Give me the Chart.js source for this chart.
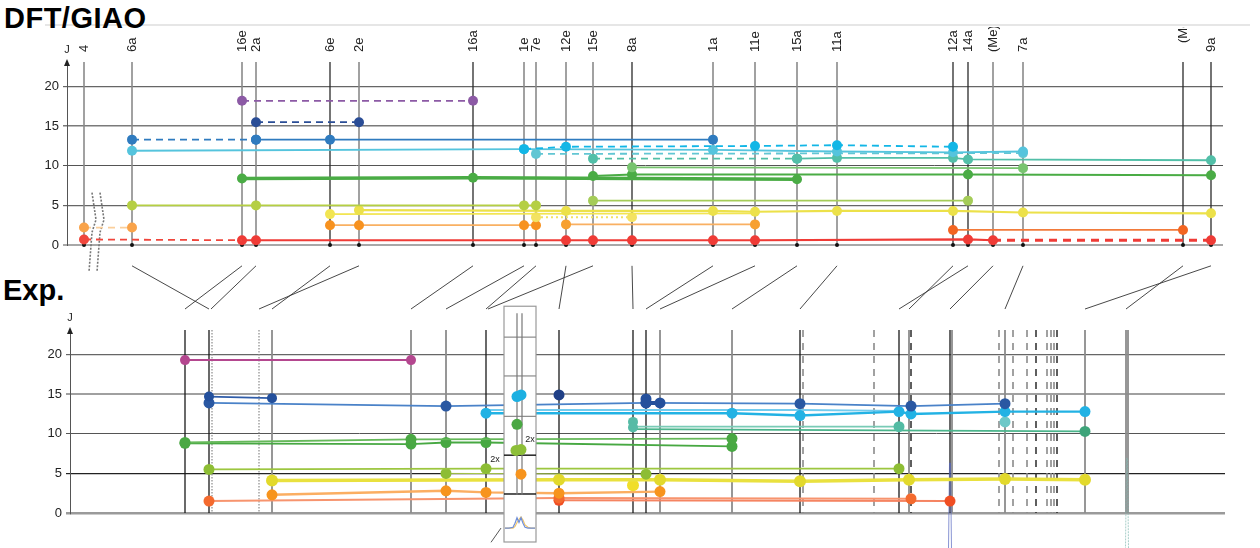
<!DOCTYPE html>
<html>
<head>
<meta charset="utf-8">
<script src="https://cdn.jsdelivr.net/npm/chart.js@4.4.1/dist/chart.umd.min.js"></script>
<style>
  html, body { margin: 0; background: #fff; }
  #wrap { position: relative; width: 1260px; height: 548px; overflow: hidden; font-family: "Liberation Sans", Arial, sans-serif; }
  .ptitle { position: absolute; font-weight: bold; font-size: 29px; line-height: 1; color: #000; }
  #rule { position: absolute; left: 45px; top: 24px; width: 1205px; height: 2px; background: #e6e6e6; }
  canvas { position: absolute; left: 0; }
</style>
</head>
<body>
<div id="wrap">
  <div id="rule"></div>
  <div class="ptitle" style="left:4px;top:4px;letter-spacing:0.5px">DFT/GIAO</div>
  <div class="ptitle" style="left:3px;top:276px">Exp.</div>
  <canvas id="dft" width="1260" height="280" style="top:0"></canvas>
  <canvas id="exp" width="1260" height="293" style="top:255px"></canvas>
</div>
<script>
// --- DFT/GIAO panel: assigned proton positions (x) and labels
const topPos = [84, 132, 242, 256, 330, 359, 473, 524, 536, 566, 593, 632, 713, 755, 797, 837, 953, 968, 993, 1023, 1183, 1211];
const topLabels = ['4', '6a', '16e', '2a', '6e', '2e', '16a', '1e', '7e', '12e', '15e', '8a', '1a', '11e', '15a', '11a', '12a', '14a', '(Me)', '7a', '(Me)', '9a'];
const topDark = ['6e', '16a', '8a', '12a', '14a', '9a'];

// computed couplings J (Hz): [position, J]
const dftPurple = [[242, 18.2], [473, 18.2]];
const dftNavy = [[256, 15.5], [359, 15.5]];
const dftBlueA = [[132, 13.3], [256, 13.3]];
const dftBlueB = [[256, 13.3], [330, 13.3], [713, 13.3]];
const dftSky = [[132, 11.9], [524, 12.1], [713, 12.0], [837, 11.8], [953, 11.7], [1023, 11.8]];
const dftCyan = [[524, 12.1], [566, 12.4], [755, 12.5], [837, 12.6], [953, 12.4]];
const dftPale = [[536, 11.5], [1023, 11.6]];
const dftTealA = [[593, 10.9], [797, 10.9]];
const dftTealB = [[797, 10.9], [837, 11.0], [953, 11.0], [968, 10.8], [1211, 10.7]];
const dftGreenA = [[242, 8.4], [473, 8.5], [797, 8.3]];
const dftGreenB = [[593, 8.7], [632, 8.9], [968, 8.9], [1211, 8.8]];
const dftGreenC = [[632, 9.8], [1023, 9.7]];
const dftLimeA = [[132, 5.0], [256, 5.0], [524, 5.0], [536, 5.0]];
const dftLimeB = [[593, 5.6], [968, 5.6]];
const dftYellowA = [[359, 4.4], [566, 4.3], [713, 4.3], [755, 4.2], [837, 4.3], [953, 4.3], [1023, 4.1], [1211, 4.0]];
const dftYellowB = [[330, 3.9], [755, 4.0]];
const dftYellowC = [[536, 3.5], [632, 3.5]];
const dftOrangeA = [[330, 2.5], [359, 2.5], [524, 2.5], [536, 2.5]];
const dftOrangeB = [[566, 2.6], [755, 2.6]];
const dftPeach = [[84, 2.2], [132, 2.2]];
const dftRedA = [[84, 0.7], [242, 0.6]];
const dftRedB = [[242, 0.6], [256, 0.6], [566, 0.6], [593, 0.6], [632, 0.6], [713, 0.6], [755, 0.6], [968, 0.7], [993, 0.6]];
const dftRedC = [[993, 0.6], [1211, 0.6]];
const dftDeep = [[953, 1.9], [1183, 1.9]];

// --- Experimental panel: signal positions and line kinds
const expPos = [185, 209, 212, 259, 272, 411, 446, 486, 559, 633, 646, 660, 732, 800, 803, 874, 899, 909, 911, 950, 952, 999, 1005, 1013, 1027, 1036, 1047, 1051, 1054, 1057, 1085, 1126, 1128];
const expKind = ['k', 'k', 'dot', 'dot', 'g', 'g', 'g', 'k', 'k', 'k', 'k', 'g', 'g', 'k', 'dash', 'dash', 'k', 'g', 'dashk', 'k', 'g', 'dash', 'g', 'dash', 'dash', 'dashk', 'dash', 'dash', 'dash', 'dashk', 'g', 'g', 'g'];

// measured couplings J (Hz)
const expMagenta = [[185, 19.3], [411, 19.3]];
const expNavy = [[209, 14.7], [272, 14.5]];
const expNavyB = [[559, 14.9]];
const expNavyC = [[646, 14.4], [646, 13.9], [660, 13.9]];
const expBlue = [[209, 13.9], [446, 13.5], [646, 13.9], [800, 13.8], [911, 13.5], [1005, 13.8]];
const expSky = [[486, 12.6], [732, 12.6], [800, 12.3], [899, 12.8], [911, 12.5], [1005, 12.8], [1085, 12.8]];
const expSkyB = [[486, 13.0], [800, 13.0], [899, 12.9]];
const expTealDots = [[633, 11.5], [633, 10.8]];
const expTeal = [[633, 10.9], [899, 10.9]];
const expTealDot = [[1005, 11.5]];
const expSeaGreen = [[633, 10.6], [1085, 10.3]];
const expGreenA = [[185, 8.9], [411, 9.3], [732, 9.4]];
const expGreenB = [[185, 8.8], [411, 8.7], [446, 8.9], [486, 8.9], [732, 8.4]];
const expLime = [[209, 5.5], [486, 5.6], [899, 5.6]];
const expLimeB = [[446, 5.0], [646, 4.9]];
const expYellow = [[272, 4.1], [559, 4.2], [660, 4.2], [800, 4.0], [909, 4.2], [1005, 4.3], [1085, 4.2]];
const expYellowDot = [[633, 3.5]];
const expOrange = [[272, 2.3], [446, 2.8], [486, 2.6], [559, 2.5], [660, 2.7]];
const expRedOrange = [[209, 1.5], [559, 1.9], [911, 1.8]];
const expCoral = [[559, 1.6], [950, 1.5]];
// inset (overlapped signals)
const insetDots = [[517, 14.7], [521, 14.9], [517, 11.2], [516, 7.9], [521, 8.0], [521, 4.9]];
const insetDotColors = ['#1cb0e2', '#1cb0e2', '#4aa843', '#8dbf38', '#8dbf38', '#f7941d'];
const insetLines = [517, 522];
const insetSpecX = [505, 509, 513, 515, 517, 519, 521, 523, 525, 528, 531, 535];
const insetBlue = [-1.9, -1.9, -1.8, -1.3, -0.6, -1.2, -0.6, -1.3, -1.8, -1.9, -1.9, -1.9];
const insetGold = [-1.9, -1.9, -1.9, -1.7, -1.2, -0.8, -0.5, -0.9, -1.5, -1.8, -1.9, -1.9];
// spectral traces below the baseline
const peakX = [950, 1127];
const peakTopJ = [6.3, 6.9];

// links between computed and measured positions
const linkFrom = [132, 242, 256, 330, 359, 473, 524, 536, 593, 566, 632, 713, 755, 797, 837, 953, 968, 993, 1023, 1183, 1211];
const linkTo = [209, 185, 211, 272, 259, 411, 446, 486, 488, 559, 633, 646, 660, 732, 800, 909, 899, 950, 1005, 1126, 1085];

const FONT = '"Liberation Sans", Arial, sans-serif';

function series(points, color, extra) {
  return Object.assign({
    data: points.map(([x, y]) => ({ x, y })),
    borderColor: color,
    backgroundColor: color,
    pointBackgroundColor: color,
    borderWidth: 1.8,
    pointRadius: 5,
    pointHoverRadius: 5,
    pointBorderWidth: 0,
    tension: 0,
    fill: false,
    clip: false
  }, extra || {});
}
const dashed = { borderDash: [7, 5] };

function yAxis(width, gridStyle) {
  return {
    min: 0,
    max: 23.1,
    afterFit: s => { s.width = width; },
    afterBuildTicks: s => { s.ticks = [0, 5, 10, 15, 20].map(v => ({ value: v })); },
    ticks: { color: '#222', font: { size: 13, family: FONT }, padding: 4 },
    grid: {
      color: c => gridStyle[c.tick.value][0],
      lineWidth: c => gridStyle[c.tick.value][1],
      tickLength: 4
    },
    border: { color: '#555', width: 1 }
  };
}

function line(ctx, pts, color, width, dash) {
  ctx.save();
  ctx.strokeStyle = color;
  ctx.lineWidth = width;
  ctx.setLineDash(dash || []);
  ctx.beginPath();
  pts.forEach(([px, py], i) => i ? ctx.lineTo(px, py) : ctx.moveTo(px, py));
  ctx.stroke();
  ctx.restore();
}

function axisArrow(chart, label) {
  const { ctx, chartArea } = chart;
  const ax = chartArea.left;
  ctx.save();
  ctx.fillStyle = '#222';
  ctx.beginPath();
  ctx.moveTo(ax, chartArea.top - 3);
  ctx.lineTo(ax - 3, chartArea.top + 4);
  ctx.lineTo(ax + 3, chartArea.top + 4);
  ctx.closePath();
  ctx.fill();
  ctx.font = '11px ' + FONT;
  ctx.textAlign = 'center';
  ctx.textBaseline = 'bottom';
  ctx.fillText(label, ax, chartArea.top - 7);
  ctx.restore();
}

const dftDecor = {
  id: 'dftDecor',
  beforeDatasetsDraw(chart) {
    const { ctx, scales: { x, y } } = chart;
    topPos.forEach((v, i) => {
      const px = x.getPixelForValue(v);
      const dark = topDark.includes(topLabels[i]) || i === 20;
      line(ctx, [[px, y.getPixelForValue(y.max)], [px, y.getPixelForValue(0)]], dark ? '#2a2a2a' : '#8a8a8a', dark ? 1.3 : 1.6);
    });
    // axis break
    const brk = [[92, 6.6], [96, 3.2], [92, 1.6], [89, -3.4]];
    [0, 8].forEach(off => {
      line(ctx, brk.map(([bx, bj]) => [x.getPixelForValue(bx + off), y.getPixelForValue(bj)]), '#777', 1.6, [2, 1.5]);
    });
  },
  afterDraw(chart) {
    const { ctx, scales: { x } } = chart;
    ctx.save();
    ctx.beginPath();
    ctx.rect(0, 27, 1260, 60);
    ctx.clip();
    ctx.fillStyle = '#222';
    ctx.font = '13px ' + FONT;
    ctx.textAlign = 'left';
    ctx.textBaseline = 'middle';
    topPos.forEach((v, i) => {
      ctx.save();
      ctx.translate(x.getPixelForValue(v), i === 20 ? 43 : 52);
      ctx.rotate(-Math.PI / 2);
      ctx.fillText(topLabels[i], 0, 0);
      ctx.restore();
    });
    ctx.restore();
    axisArrow(chart, 'J');
  }
};

const expDecor = {
  id: 'expDecor',
  beforeDatasetsDraw(chart) {
    const { ctx, scales: { x, y } } = chart;
    const kinds = {
      k: ['#1a1a1a', 1.3, []],
      g: ['#8c8c8c', 1.8, []],
      dot: ['#8a8a8a', 1.2, [1.5, 1.5]],
      dash: ['#8a8a8a', 1.6, [7, 6]],
      dashk: ['#2a2a2a', 1.5, [7, 6]]
    };
    expPos.forEach((v, i) => {
      const [c, w, d] = kinds[expKind[i]];
      const px = x.getPixelForValue(v);
      line(ctx, [[px, y.getPixelForValue(y.max)], [px, y.getPixelForValue(0)]], c, w, d);
    });
    // spectral traces
    peakX.forEach((v, i) => {
      const px = x.getPixelForValue(v);
      const col = i === 0 ? '#5566c0' : '#7fb8b0';
      line(ctx, [[px - 1.5, y.getPixelForValue(-4.6)], [px - 0.5, y.getPixelForValue(peakTopJ[i])], [px + 0.5, y.getPixelForValue(peakTopJ[i])], [px + 1.5, y.getPixelForValue(-4.6)]], col, 0.7, i ? [2, 1] : []);
    });
    // links to computed panel
    linkFrom.forEach((v, i) => {
      line(ctx, [[x.getPixelForValue(v), y.getPixelForValue(31.2)], [x.getPixelForValue(linkTo[i]), y.getPixelForValue(25.75)]], '#333', 0.9);
    });
  },
  beforeDatasetDraw(chart, args) {
    if (args.index !== 0) return;
    const { ctx, scales: { x, y } } = chart;
    const l = x.getPixelForValue(504), r = x.getPixelForValue(536);
    const t = y.getPixelForValue(26.1), b = y.getPixelForValue(-3.66);
    ctx.save();
    ctx.fillStyle = '#fff';
    ctx.fillRect(l, t, r - l, b - t);
    ctx.strokeStyle = '#9a9a9a';
    ctx.lineWidth = 1.2;
    ctx.strokeRect(l, t, r - l, b - t);
    ctx.restore();
    [22.2, 17.3, 12.2].forEach(j => line(ctx, [[l, y.getPixelForValue(j)], [r, y.getPixelForValue(j)]], '#8a8a8a', 1.2));
    [7.3, 2.4].forEach(j => line(ctx, [[l, y.getPixelForValue(j)], [r, y.getPixelForValue(j)]], '#111', 1.4));
    insetLines.forEach(v => line(ctx, [[x.getPixelForValue(v), y.getPixelForValue(25.2)], [x.getPixelForValue(v), y.getPixelForValue(2.3)]], '#777', 1.2));
    line(ctx, insetSpecX.map((v, i) => [x.getPixelForValue(v), y.getPixelForValue(insetGold[i])]), '#f2c66a', 1.2);
    line(ctx, insetSpecX.map((v, i) => [x.getPixelForValue(v), y.getPixelForValue(insetBlue[i])]), '#6f8fd8', 1.2);
  },
  afterDraw(chart) {
    const { ctx, scales: { x, y } } = chart;
    ctx.save();
    ctx.fillStyle = '#222';
    ctx.font = '9px ' + FONT;
    ctx.textAlign = 'center';
    ctx.textBaseline = 'middle';
    ctx.fillText('2x', x.getPixelForValue(495), y.getPixelForValue(6.7));
    ctx.fillText('2x', x.getPixelForValue(530), y.getPixelForValue(9.3));
    ctx.restore();
    line(ctx, [[x.getPixelForValue(491), y.getPixelForValue(-3.7)], [x.getPixelForValue(501), y.getPixelForValue(-1.9)]], '#555', 1);
    axisArrow(chart, 'J');
  }
};

const dftData = [
  series(dftPurple, '#8c5aa5', dashed),
  series(dftNavy, '#2a4d96', dashed),
  series(dftBlueA, '#2f7bbf', dashed),
  series(dftBlueB, '#2f7bbf'),
  series(dftCyan, '#12b6e6', dashed),
  series(dftSky, '#55c4dd'),
  series(dftPale, '#62c6d3', dashed),
  series(dftTealA, '#52bfa8', dashed),
  series(dftTealB, '#52bfa8'),
  series(dftGreenC, '#78c46f'),
  series(dftGreenA, '#4aac45', { borderWidth: 3.5 }),
  series(dftGreenB, '#4aac45', { borderWidth: 2 }),
  series(dftLimeA, '#b5cf43'),
  series(dftLimeB, '#a5cc58'),
  series(dftYellowA, '#ece14a', { borderWidth: 2.2 }),
  series(dftYellowB, '#f2e552', { pointRadius: [5, 0] }),
  series(dftYellowC, '#f3e263', { borderDash: [2, 3] }),
  series(dftOrangeA, '#f9b062', { pointBackgroundColor: '#f7921f' }),
  series(dftOrangeB, '#f9b062', { pointBackgroundColor: '#f7a030' }),
  series(dftPeach, '#fbcf9b', { borderDash: [7, 5], pointBackgroundColor: '#f9a34a' }),
  series(dftDeep, '#f27a3a', { pointBackgroundColor: '#f26522' }),
  series(dftRedA, '#f0463c', { borderDash: [7, 5], pointRadius: [5, 0] }),
  series(dftRedB, '#ef3b36', { borderWidth: 2.2 }),
  series(dftRedC, '#ef3b36', { borderDash: [8, 6], borderWidth: 3, pointRadius: [0, 5] }),
  series(topPos.map(v => [v, 0]), '#111', { showLine: false, pointRadius: 2 })
];

new Chart(document.getElementById('dft'), {
  type: 'line',
  data: { datasets: dftData },
  options: {
    responsive: false,
    animation: false,
    events: [],
    layout: { padding: { top: 62, bottom: 35, left: 0, right: 37 } },
    plugins: { legend: { display: false }, tooltip: { enabled: false } },
    scales: {
      x: { type: 'linear', min: 67, max: 1223, display: false },
      y: yAxis(67, { 0: ['#a8a8a8', 2], 5: ['#666', 1.2], 10: ['#555', 1], 15: ['#7a7a7a', 1.5], 20: ['#666', 1.2] })
    }
  },
  plugins: [dftDecor]
});

const expData = [
  series(insetDots, '#1cb0e2', { showLine: false, pointBackgroundColor: insetDotColors, pointRadius: 5.5 }),
  series(expMagenta, '#b4478f', { borderWidth: 2 }),
  series(expNavy, '#2f5ca8', { pointBackgroundColor: '#24509c' }),
  series(expNavyB, '#1f3f86', { pointRadius: 5.5 }),
  series(expNavyC, '#24509c', { borderWidth: 4, pointRadius: 5.5 }),
  series(expBlue, '#4a82c8', { pointBackgroundColor: '#2a58a2', pointRadius: 5.5 }),
  series(expSky, '#22b2e4', { borderWidth: 2.4, pointRadius: 5.5 }),
  series(expSkyB, '#72cbee', { pointRadius: 0 }),
  series(expTealDots, '#56bba6', { borderWidth: 6, pointRadius: 5 }),
  series(expTeal, '#79cbb6', { pointRadius: [0, 5.5], pointBackgroundColor: '#52bba3' }),
  series(expTealDot, '#6dc8c8', { pointRadius: 5.5 }),
  series(expSeaGreen, '#4bb58c', { pointRadius: [0, 5.5], pointBackgroundColor: '#3ea47a' }),
  series(expGreenA, '#66b95a', { pointBackgroundColor: '#4aa843', pointRadius: 5.5 }),
  series(expGreenB, '#47a842', { pointRadius: 5.5 }),
  series(expLime, '#9cc63f', { pointBackgroundColor: '#8dbd34', pointRadius: 5.5 }),
  series(expLimeB, '#a8c84a', { borderWidth: 1, pointBackgroundColor: '#8dbd34', pointRadius: 5.5 }),
  series(expYellow, '#e9e13f', { borderWidth: 3.5, pointBackgroundColor: '#e2d92c', pointRadius: 6 }),
  series(expYellowDot, '#f0de2a', { pointRadius: 6 }),
  series(expOrange, '#fbae62', { borderWidth: 2.4, pointBackgroundColor: '#f7941d', pointRadius: 5.5 }),
  series(expRedOrange, '#f7946e', { borderWidth: 2, pointBackgroundColor: '#f46a2e', pointRadius: 5.5 }),
  series(expCoral, '#f58462', { borderWidth: 2, pointBackgroundColor: '#f04e23', pointRadius: 5.5 })
];

new Chart(document.getElementById('exp'), {
  type: 'line',
  data: { datasets: expData },
  options: {
    responsive: false,
    animation: false,
    events: [],
    layout: { padding: { top: 75, bottom: 35, left: 0, right: 35 } },
    plugins: { legend: { display: false }, tooltip: { enabled: false } },
    scales: {
      x: { type: 'linear', min: 70, max: 1225, display: false },
      y: yAxis(70, { 0: ['#9a9a9a', 2.5], 5: ['#222', 1.2], 10: ['#555', 1], 15: ['#a0a0a0', 2], 20: ['#666', 1.2] })
    }
  },
  plugins: [expDecor]
});
</script>
</body>
</html>
